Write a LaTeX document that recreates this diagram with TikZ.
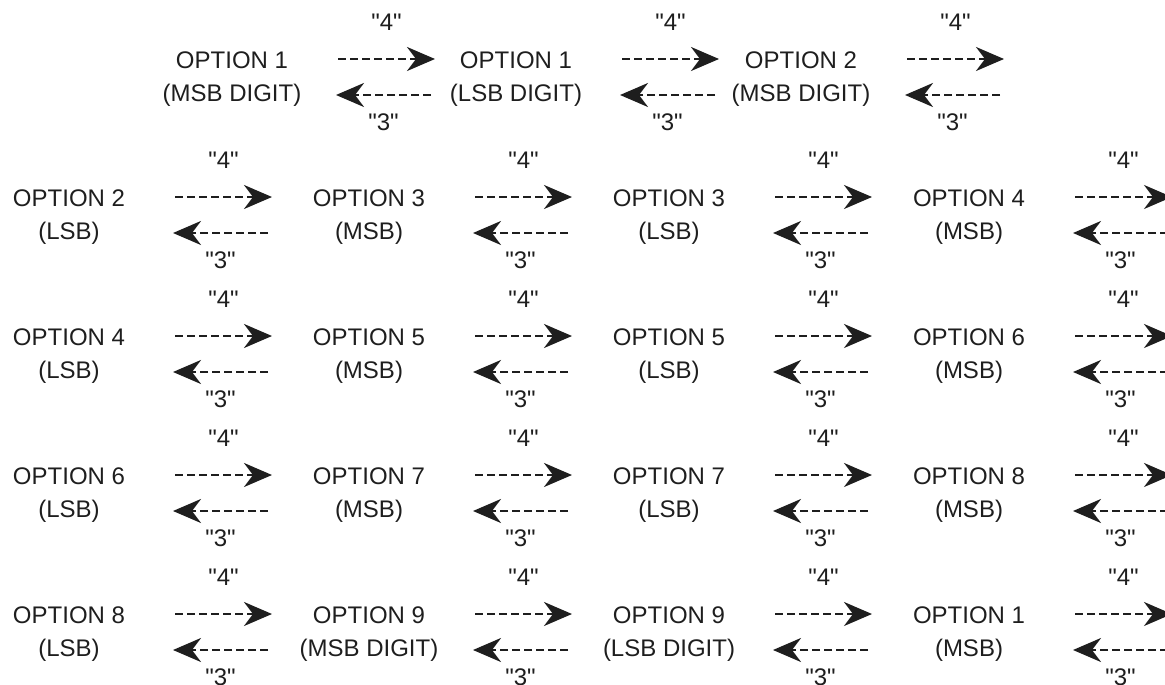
\documentclass[tikz,border=0pt]{standalone}
\usepackage{fontspec}
\setmainfont{Liberation Sans}[Ligatures=TeXOff]
\usetikzlibrary{arrows.meta}
\definecolor{ink}{HTML}{1E1E1E}

\begin{document}
\begin{tikzpicture}[x=1pt, y=-1pt,
    opt/.style={align=center, text=ink, font=\fontsize{24}{33}\selectfont},
    num/.style={text=ink, font=\fontsize{24}{29}\selectfont},
    fwd/.style={draw=ink, line width=2.6pt, dash pattern=on 8pt off 4pt,
      -{Stealth[length=28pt, width=24pt, inset=9pt]}}]
        \path[clip, use as bounding box] (0,0) rectangle (1165,685);

        \node[opt] (a1) at (232,79) {OPTION 1\\(MSB DIGIT)};
        \node[opt] (a2) at (516,79) {OPTION 1\\(LSB DIGIT)};
        \node[opt] (a3) at (801,79) {OPTION 2\\(MSB DIGIT)};
        \node[opt] (a4) at (69,217) {OPTION 2\\(LSB)};
        \node[opt] (a5) at (369,217) {OPTION 3\\(MSB)};
        \node[opt] (a6) at (669,217) {OPTION 3\\(LSB)};
        \node[opt] (a7) at (969,217) {OPTION 4\\(MSB)};
        \node[opt] (a8) at (69,356) {OPTION 4\\(LSB)};
        \node[opt] (a9) at (369,356) {OPTION 5\\(MSB)};
        \node[opt] (a10) at (669,356) {OPTION 5\\(LSB)};
        \node[opt] (a11) at (969,356) {OPTION 6\\(MSB)};
        \node[opt] (a12) at (69,495) {OPTION 6\\(LSB)};
        \node[opt] (a13) at (369,495) {OPTION 7\\(MSB)};
        \node[opt] (a14) at (669,495) {OPTION 7\\(LSB)};
        \node[opt] (a15) at (969,495) {OPTION 8\\(MSB)};
        \node[opt] (a16) at (69,634) {OPTION 8\\(LSB)};
        \node[opt] (a17) at (369,634) {OPTION 9\\(MSB DIGIT)};
        \node[opt] (a18) at (669,634) {OPTION 9\\(LSB DIGIT)};
        \node[opt] (a19) at (969,634) {OPTION 1\\(MSB)};

        % "4" goes right, "3" comes back
        \draw[fwd] ([shift={(106,-20)}]a1.center) -- ++(97,0) node[midway, yshift=37pt, num] {"4"};
        \draw[fwd] ([shift={(199,16)}]a1.center) -- ++(-95,0) node[midway, yshift=-27pt, num] {"3"};
        \draw[fwd] ([shift={(106,-20)}]a2.center) -- ++(97,0) node[midway, yshift=37pt, num] {"4"};
        \draw[fwd] ([shift={(199,16)}]a2.center) -- ++(-95,0) node[midway, yshift=-27pt, num] {"3"};
        \draw[fwd] ([shift={(106,-20)}]a3.center) -- ++(97,0) node[midway, yshift=37pt, num] {"4"};
        \draw[fwd] ([shift={(199,16)}]a3.center) -- ++(-95,0) node[midway, yshift=-27pt, num] {"3"};
        \draw[fwd] ([shift={(106,-20)}]a4.center) -- ++(97,0) node[midway, yshift=37pt, num] {"4"};
        \draw[fwd] ([shift={(199,16)}]a4.center) -- ++(-95,0) node[midway, yshift=-27pt, num] {"3"};
        \draw[fwd] ([shift={(106,-20)}]a5.center) -- ++(97,0) node[midway, yshift=37pt, num] {"4"};
        \draw[fwd] ([shift={(199,16)}]a5.center) -- ++(-95,0) node[midway, yshift=-27pt, num] {"3"};
        \draw[fwd] ([shift={(106,-20)}]a6.center) -- ++(97,0) node[midway, yshift=37pt, num] {"4"};
        \draw[fwd] ([shift={(199,16)}]a6.center) -- ++(-95,0) node[midway, yshift=-27pt, num] {"3"};
        \draw[fwd] ([shift={(106,-20)}]a7.center) -- ++(97,0) node[midway, yshift=37pt, num] {"4"};
        \draw[fwd] ([shift={(199,16)}]a7.center) -- ++(-95,0) node[midway, yshift=-27pt, num] {"3"};
        \draw[fwd] ([shift={(106,-20)}]a8.center) -- ++(97,0) node[midway, yshift=37pt, num] {"4"};
        \draw[fwd] ([shift={(199,16)}]a8.center) -- ++(-95,0) node[midway, yshift=-27pt, num] {"3"};
        \draw[fwd] ([shift={(106,-20)}]a9.center) -- ++(97,0) node[midway, yshift=37pt, num] {"4"};
        \draw[fwd] ([shift={(199,16)}]a9.center) -- ++(-95,0) node[midway, yshift=-27pt, num] {"3"};
        \draw[fwd] ([shift={(106,-20)}]a10.center) -- ++(97,0) node[midway, yshift=37pt, num] {"4"};
        \draw[fwd] ([shift={(199,16)}]a10.center) -- ++(-95,0) node[midway, yshift=-27pt, num] {"3"};
        \draw[fwd] ([shift={(106,-20)}]a11.center) -- ++(97,0) node[midway, yshift=37pt, num] {"4"};
        \draw[fwd] ([shift={(199,16)}]a11.center) -- ++(-95,0) node[midway, yshift=-27pt, num] {"3"};
        \draw[fwd] ([shift={(106,-20)}]a12.center) -- ++(97,0) node[midway, yshift=37pt, num] {"4"};
        \draw[fwd] ([shift={(199,16)}]a12.center) -- ++(-95,0) node[midway, yshift=-27pt, num] {"3"};
        \draw[fwd] ([shift={(106,-20)}]a13.center) -- ++(97,0) node[midway, yshift=37pt, num] {"4"};
        \draw[fwd] ([shift={(199,16)}]a13.center) -- ++(-95,0) node[midway, yshift=-27pt, num] {"3"};
        \draw[fwd] ([shift={(106,-20)}]a14.center) -- ++(97,0) node[midway, yshift=37pt, num] {"4"};
        \draw[fwd] ([shift={(199,16)}]a14.center) -- ++(-95,0) node[midway, yshift=-27pt, num] {"3"};
        \draw[fwd] ([shift={(106,-20)}]a15.center) -- ++(97,0) node[midway, yshift=37pt, num] {"4"};
        \draw[fwd] ([shift={(199,16)}]a15.center) -- ++(-95,0) node[midway, yshift=-27pt, num] {"3"};
        \draw[fwd] ([shift={(106,-20)}]a16.center) -- ++(97,0) node[midway, yshift=37pt, num] {"4"};
        \draw[fwd] ([shift={(199,16)}]a16.center) -- ++(-95,0) node[midway, yshift=-27pt, num] {"3"};
        \draw[fwd] ([shift={(106,-20)}]a17.center) -- ++(97,0) node[midway, yshift=37pt, num] {"4"};
        \draw[fwd] ([shift={(199,16)}]a17.center) -- ++(-95,0) node[midway, yshift=-27pt, num] {"3"};
        \draw[fwd] ([shift={(106,-20)}]a18.center) -- ++(97,0) node[midway, yshift=37pt, num] {"4"};
        \draw[fwd] ([shift={(199,16)}]a18.center) -- ++(-95,0) node[midway, yshift=-27pt, num] {"3"};
        \draw[fwd] ([shift={(106,-20)}]a19.center) -- ++(97,0) node[midway, yshift=37pt, num] {"4"};
        \draw[fwd] ([shift={(199,16)}]a19.center) -- ++(-95,0) node[midway, yshift=-27pt, num] {"3"};
\end{tikzpicture}
\end{document}
